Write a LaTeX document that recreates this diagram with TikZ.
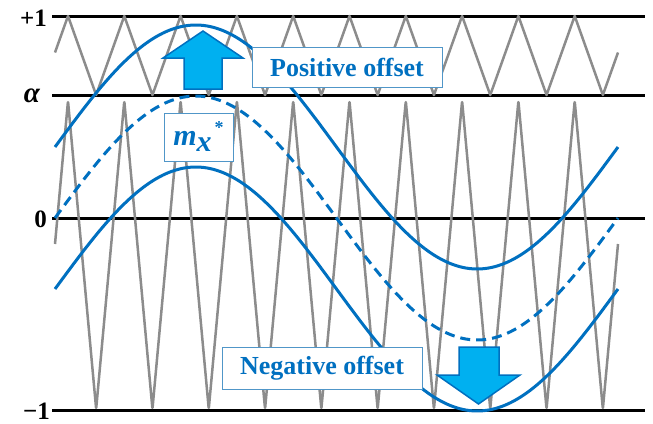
\documentclass[tikz,border=0pt]{standalone}
\usepackage{fontspec}
\setmainfont{Liberation Serif}
\definecolor{lineblue}{RGB}{0,112,192}
\definecolor{arrowblue}{RGB}{0,176,240}
\definecolor{boxblue}{RGB}{80,150,200}
\definecolor{carriergray}{RGB}{140,140,140}
\begin{document}
\begin{tikzpicture}[x=1pt, y=-1pt,
  level/.style={line width=3pt, black},
  carrier/.style={line width=2.5pt, carriergray, line join=round},
  signal/.style={line width=3pt, lineblue},
  tag/.style={draw=boxblue, line width=1pt, fill=white, text=lineblue, font=\fontsize{26}{26}\selectfont\bfseries, inner sep=0pt},
  axlabel/.style={font=\fontsize{25}{25}\selectfont\bfseries, inner sep=0pt},
  blockarrow/.style={fill=arrowblue, draw=lineblue, line width=1.5pt, line join=miter}]
\useasboundingbox (0,0) rectangle (653,423);
\draw[level] (52,16) -- (645,16);
\draw[level] (52,95) -- (645,95);
\draw[level] (52,218) -- (645,218);
\draw[level] (52,410) -- (645,410);
\node[axlabel, anchor=east] (plusone) at (47,18) {+1};
\node[axlabel, font=\fontsize{29}{29}\selectfont\bfseries\itshape] (alpha) at (32,96) {α};
\node[axlabel, anchor=east] (zero) at (47,219) {0};
\node[axlabel, anchor=east] (minusone) at (50,411) {−1};
\draw[carrier] (55,52.5) \foreach \k in {0,...,9} { -- ({68+56.3*\k},16) -- ({96.15+56.3*\k},95) } -- (618,52.5);
\draw[carrier, rounded corners=2pt] (55,244) \foreach \k in {0,...,9} { -- ({68+56.3*\k},101) -- ({96.15+56.3*\k},409) } -- (618,244);
\draw[signal] plot[domain=55:618, samples=90, smooth] (\x, {147-122*sin((\x-55)/563*360)});
\draw[signal, dash pattern=on 10pt off 6pt] plot[domain=55:618, samples=90, smooth] (\x, {218-122*sin((\x-55)/563*360)});
\draw[signal] plot[domain=55:618, samples=90, smooth] (\x, {289-122*sin((\x-55)/563*360)});
\draw[blockarrow] (184,89) -- (184,58) -- (163,58) -- (203,31) -- (243,58) -- (222,58) -- (222,89) -- cycle;
\draw[blockarrow] (459,347) -- (499,347) -- (499,375) -- (520,375) -- (478.5,404) -- (437,375) -- (459,375) -- cycle;
\node[tag, minimum width=190pt, minimum height=40pt] (posoff) at (347,67) {Positive offset};
\node[tag, minimum width=200pt, minimum height=42pt] (negoff) at (322,368) {Negative offset};
\node[tag, minimum width=69pt, minimum height=48pt, font=\fontsize{30}{30}\selectfont\bfseries\itshape] (mx) at (198.5,137) {m\raisebox{-6pt}{x}\hspace{3pt}\raisebox{12pt}{\upshape\fontsize{18}{18}\selectfont *}};
\end{tikzpicture}
\end{document}
